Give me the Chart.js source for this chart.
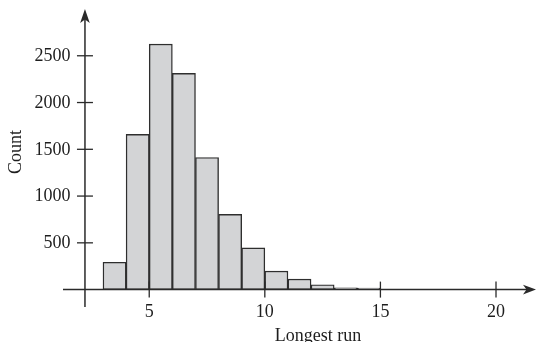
<!DOCTYPE html>
<html>
<head>
<meta charset="utf-8">
<script src="https://cdn.jsdelivr.net/npm/chart.js@4"></script>
<style>
  html, body { margin: 0; padding: 0; background: #ffffff; }
  #wrap { width: 537px; height: 342px; position: relative; }
</style>
</head>
<body>
<div id="wrap"><canvas id="c"></canvas></div>
<script>
// ---- data ----
const binStarts = [3, 4, 5, 6, 7, 8, 9, 10, 11, 12, 13, 14];
const counts    = [292, 1660, 2625, 2312, 1412, 805, 446, 198, 112, 52, 18, 16];
const xTickValues = [5, 10, 15, 20];
const yTickValues = [500, 1000, 1500, 2000, 2500];
const xTitle = 'Longest run';
const yTitle = 'Count';

const yAxisAt = 2.22;   // x value where the vertical axis crosses
const INK = '#2a2a2a';
const FONT = '18px "Liberation Serif", "Times New Roman", serif';

const barData = binStarts.map((b, i) => ({ x: b + 0.5, y: counts[i] }));

const axesPlugin = {
  id: 'axesArrows',
  afterDatasetsDraw(chart) {
    const ctx = chart.ctx;
    const xs = chart.scales.x, ys = chart.scales.y;
    const x0 = xs.getPixelForValue(yAxisAt);
    const y0 = ys.getPixelForValue(0);
    ctx.save();
    ctx.strokeStyle = INK;
    ctx.fillStyle = INK;
    ctx.lineWidth = 1.5;

    // horizontal axis
    ctx.beginPath();
    ctx.moveTo(xs.left, y0);
    ctx.lineTo(xs.right - 6, y0);
    ctx.stroke();
    // arrow right
    const tx = xs.right;
    ctx.beginPath();
    ctx.moveTo(tx, y0);
    ctx.lineTo(tx - 13, y0 - 4.8);
    ctx.lineTo(tx - 9.5, y0);
    ctx.lineTo(tx - 13, y0 + 4.8);
    ctx.closePath();
    ctx.fill();

    // vertical axis
    ctx.beginPath();
    ctx.moveTo(x0, ys.bottom);
    ctx.lineTo(x0, ys.top + 6);
    ctx.stroke();
    const ty = ys.top;
    ctx.beginPath();
    ctx.moveTo(x0, ty);
    ctx.lineTo(x0 - 4.8, ty + 14);
    ctx.lineTo(x0, ty + 10.5);
    ctx.lineTo(x0 + 4.8, ty + 14);
    ctx.closePath();
    ctx.fill();

    // ticks
    ctx.lineWidth = 1.3;
    ctx.font = FONT;
    ctx.fillStyle = '#1e1e1e';
    ctx.textAlign = 'right';
    ctx.textBaseline = 'middle';
    yTickValues.forEach(v => {
      const py = ys.getPixelForValue(v);
      ctx.beginPath();
      ctx.moveTo(x0 - 8, py);
      ctx.lineTo(x0 + 8, py);
      ctx.stroke();
      ctx.fillText(String(v), x0 - 14.5, py + 0.5);
    });
    ctx.textAlign = 'center';
    ctx.textBaseline = 'alphabetic';
    xTickValues.forEach(v => {
      const px = xs.getPixelForValue(v);
      ctx.beginPath();
      ctx.moveTo(px, y0 - 8);
      ctx.lineTo(px, y0 + 8);
      ctx.stroke();
      ctx.fillText(String(v), px, y0 + 27);
    });

    // titles
    ctx.fillText(xTitle, 318, 340.5);
    ctx.save();
    ctx.translate(21, 152);
    ctx.rotate(-Math.PI / 2);
    ctx.textAlign = 'center';
    ctx.fillText(yTitle, 0, 0);
    ctx.restore();

    ctx.restore();
  }
};

new Chart(document.getElementById('c'), {
  type: 'bar',
  data: {
    datasets: [{
      data: barData,
      backgroundColor: '#d3d4d6',
      borderColor: '#2e2e2e',
      borderWidth: 1.4,
      borderSkipped: false,
      barPercentage: 1,
      categoryPercentage: 1
    }]
  },
  options: {
    responsive: true,
    maintainAspectRatio: false,
    devicePixelRatio: 1,
    animation: false,
    layout: { padding: { left: 63, right: 1, top: 9, bottom: 35 } },
    plugins: { legend: { display: false }, tooltip: { enabled: false } },
    scales: {
      x: { type: 'linear', min: 1.27, max: 21.73, offset: false, display: false },
      y: { type: 'linear', min: -186, max: 3000, display: false }
    }
  },
  plugins: [axesPlugin]
});
</script>
</body>
</html>
